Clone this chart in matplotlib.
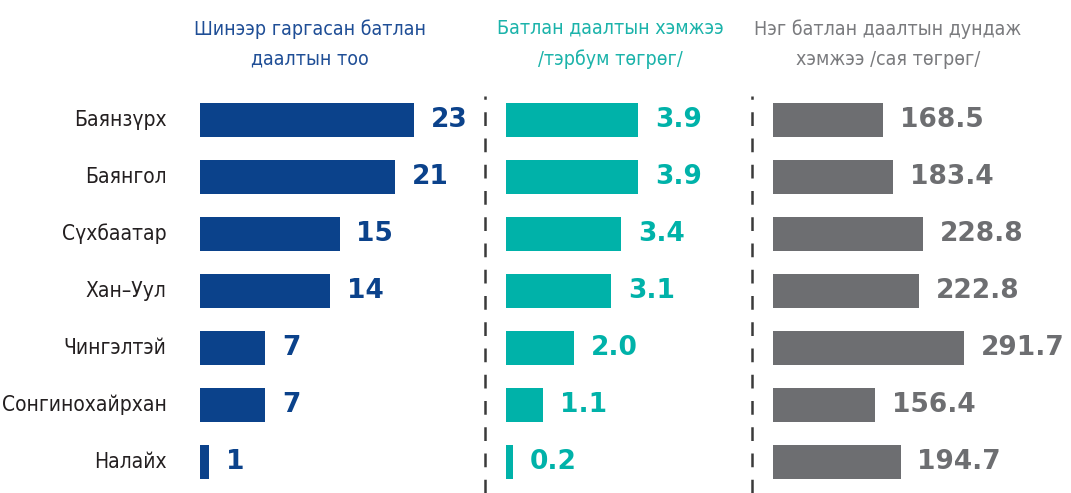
import matplotlib.pyplot as plt
from matplotlib.lines import Line2D

# districts and their guarantee figures
districts = ["Баянзүрх", "Баянгол", "Сүхбаатар", "Хан–Уул", "Чингэлтэй", "Сонгинохайрхан", "Налайх"]
new_count = [23, 21, 15, 14, 7, 7, 1]
amount_bn = [3.9, 3.9, 3.4, 3.1, 2.0, 1.1, 0.2]
avg_mn = [168.5, 183.4, 228.8, 222.8, 291.7, 156.4, 194.7]

titles = ["Шинээр гаргасан батлан\nдаалтын тоо",
          "Батлан даалтын хэмжээ\n/тэрбум төгрөг/",
          "Нэг батлан даалтын дундаж\nхэмжээ /сая төгрөг/"]
bar_colors = ["#0B428B", "#00B2A9", "#6D6E71"]
title_colors = ["#1F4E96", "#1BB3AA", "#7A7B7E"]
title_x = [310, 610, 888]

W, H = 1071, 493
fig = plt.figure(figsize=(W / 100, H / 100), dpi=100)

COND = dict(family="DejaVu Sans", stretch="condensed")

# panel geometry in pixels: left edge, right edge, x max, value format
panels = [
    (200, 480, 30.1, "{:.0f}"),
    (506, 750, 7.2, "{:.1f}"),
    (773, 1071, 455, "{:.1f}"),
]
series = [new_count, amount_bn, avg_mn]

y_top, y_bot = 91.5, 490.5
n = len(districts)
axes = []
for k, ((x0, x1, xmax, fmt), vals) in enumerate(zip(panels, series)):
    ax = fig.add_axes([x0 / W, (H - y_bot) / H, (x1 - x0) / W, (y_bot - y_top) / H])
    ax.barh(range(n), vals, height=0.61, color=bar_colors[k])
    ax.set_xlim(0, xmax)
    ax.set_ylim(n - 0.5, -0.5)
    ax.axis("off")
    for i, v in enumerate(vals):
        ax.annotate(fmt.format(v), (v, i), xytext=(12, 0), textcoords="offset points",
                    ha="left", va="center", fontsize=19, fontweight="heavy",
                    color=bar_colors[k])
    fig.text(title_x[k] / W, 1 - 44 / H, titles[k], ha="center", va="center",
             fontsize=14, color=title_colors[k], linespacing=1.75, **COND)
    axes.append(ax)

# district names to the left of the first panel
for i, name in enumerate(districts):
    axes[0].annotate(name, (0, i), xytext=(-24, 0), textcoords="offset points",
                     ha="right", va="center", fontsize=15, color="#231F20", **COND)

# dashed separators between the panels
for xs in (485, 752):
    fig.add_artist(Line2D([xs / W, xs / W], [0, 1 - 96 / H], transform=fig.transFigure,
                          color="#3A3A3A", lw=1.8, linestyle=(0, (5.5, 5))))

fig.savefig("out.png", dpi=100)
